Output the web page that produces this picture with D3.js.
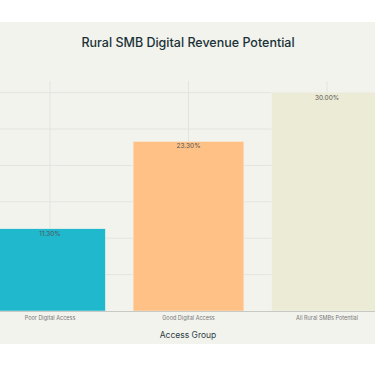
<!DOCTYPE html>
<html>
<head>
<meta charset="utf-8">
<script src="https://cdn.jsdelivr.net/npm/d3@7"></script>
<style>
  body { margin: 0; background: #ffffff; }
  svg { display: block; }
</style>
</head>
<body>
<script>
const categories = ['Poor Digital Access', 'Good Digital Access', 'All Rural SMBs Potential'];
const values = [11.3, 23.3, 30.0];
const barColors = ['#1FB8CD', '#FFC185', '#ECEBD5'];
const yTicks = [0, 5, 10, 15, 20, 25, 30];

const width = 375, height = 366;
const panel = { top: 22, bottom: 344 };
const plot = { top: 81, bottom: 311, left: -19.25, right: 396.25 };
const font = 'Inter, "Liberation Sans", sans-serif';

const svg = d3.select('body').append('svg')
  .attr('width', width)
  .attr('height', height);

// background panel
svg.append('rect')
  .attr('x', 0).attr('y', panel.top)
  .attr('width', width).attr('height', panel.bottom - panel.top)
  .attr('fill', '#F3F3EE');

const x = d3.scaleBand().domain(categories).range([plot.left, plot.right])
  .paddingInner(0.2).paddingOuter(0.1);
const y = d3.scaleLinear().domain([0, 31.6]).range([plot.bottom, plot.top]);

// grid
svg.append('g').selectAll('line').data(yTicks.slice(1)).join('line')
  .attr('x1', 0).attr('x2', width)
  .attr('y1', d => y(d)).attr('y2', d => y(d))
  .attr('stroke', '#e4e4df').attr('stroke-width', 1);

svg.append('g').selectAll('line').data(categories).join('line')
  .attr('x1', d => x(d) + x.bandwidth() / 2).attr('x2', d => x(d) + x.bandwidth() / 2)
  .attr('y1', plot.top).attr('y2', plot.bottom)
  .attr('stroke', '#e4e4df').attr('stroke-width', 1);

// bars
svg.append('g').selectAll('rect').data(values).join('rect')
  .attr('x', (d, i) => x(categories[i]))
  .attr('y', d => y(d))
  .attr('width', x.bandwidth())
  .attr('height', d => y(0) - y(d))
  .attr('fill', (d, i) => barColors[i])
  .attr('stroke', '#f3f3ee').attr('stroke-width', 0.5);

// value labels
svg.append('g').selectAll('text').data(values).join('text')
  .attr('x', (d, i) => x(categories[i]) + x.bandwidth() / 2)
  .attr('y', d => y(d) + 7)
  .attr('text-anchor', 'middle')
  .style('font-family', font)
  .style('font-size', '6.5px')
  .attr('fill', '#555555')
  .text(d => d.toFixed(2) + '%');

// x axis line
svg.append('line')
  .attr('x1', 0).attr('x2', width)
  .attr('y1', y(0) + 0.5).attr('y2', y(0) + 0.5)
  .attr('stroke', '#c8c8c4').attr('stroke-width', 1);

// x tick labels
const xAxis = svg.append('g')
  .attr('transform', 'translate(0,' + plot.bottom + ')')
  .call(d3.axisBottom(x).tickSize(0).tickPadding(5));
xAxis.select('.domain').remove();
xAxis.selectAll('text')
  .style('font-family', font)
  .style('font-size', '5.5px')
  .attr('fill', '#777777');

// axis title
svg.append('text')
  .attr('x', 188).attr('y', 338)
  .attr('text-anchor', 'middle')
  .style('font-family', font)
  .style('font-size', '8.5px')
  .attr('fill', '#2c3e44')
  .text('Access Group');

// title
svg.append('text')
  .attr('x', 188).attr('y', 47)
  .attr('text-anchor', 'middle')
  .style('font-family', font)
  .style('font-size', '12.5px')
  .style('font-weight', 500)
  .attr('fill', '#1a3236')
  .text('Rural SMB Digital Revenue Potential');
</script>
</body>
</html>
